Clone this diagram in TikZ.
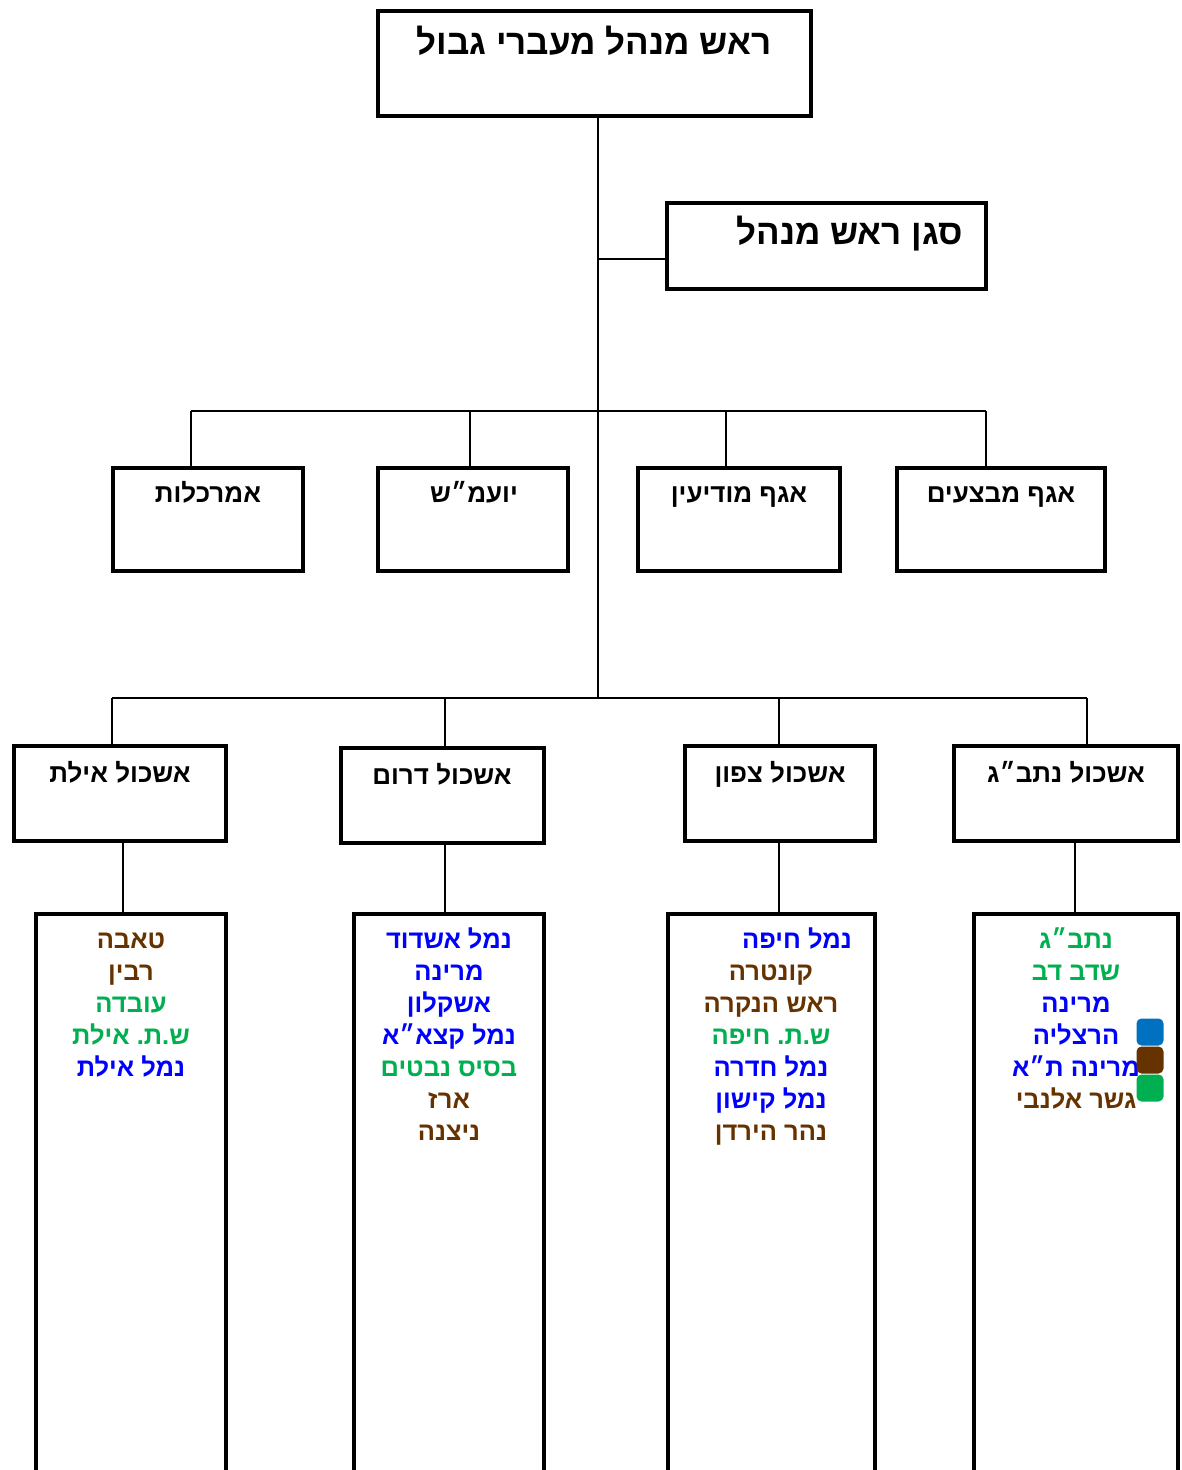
\documentclass[tikz,border=0pt]{standalone}
\usepackage{fontspec}
\setmainfont{Liberation Sans}
\newfontfamily\heb[Script=Hebrew]{Liberation Sans}
\TeXXeTstate=1
\definecolor{hbrown}{HTML}{663300}
\definecolor{hgreen}{HTML}{00B050}
\definecolor{hblue}{HTML}{0000FF}
\definecolor{sqblue}{HTML}{0070C0}
\tikzset{
  box/.style={draw=black, line width=4pt, fill=white, rectangle, inner sep=0pt, anchor=north west},
  conn/.style={draw=black, line width=2pt},
  big/.style={anchor=base, inner sep=0pt, font=\heb\bfseries\fontsize{35}{40}\selectfont},
  lbl/.style={anchor=base, inner sep=0pt, font=\heb\bfseries\fontsize{26}{30}\selectfont},
  lst/.style={anchor=base, inner sep=0pt, font=\heb\bfseries\fontsize{25.5}{30}\selectfont},
  sq/.style={rectangle, rounded corners=5pt, minimum size=27pt, inner sep=0pt}
}
\newcommand\mkbox[5]{\node[box, minimum width={#4-#2-4}, minimum height={#5-#3-4}] (#1) at (#2,#3) {};}
\newcommand\pd{\hbox{.}}
\begin{document}
\begin{tikzpicture}[x=1pt, y=-1pt]
\useasboundingbox (0,0) rectangle (1182,1470);
\fill[white] (0,0) rectangle (1182,1470);
\clip (0,0) rectangle (1182,1470);
% junction coordinates
\coordinate (j1) at (598,259);
\coordinate (j2) at (598,411);
\coordinate (j3) at (598,698);
\coordinate (d1) at (191,411);
\coordinate (d2) at (470,411);
\coordinate (d3) at (726,411);
\coordinate (d4) at (986,411);
\coordinate (e1) at (112,698);
\coordinate (e2) at (445,698);
\coordinate (e3) at (779,698);
\coordinate (e4) at (1087,698);
% boxes
\mkbox{top}{376}{9}{813}{118}
\mkbox{sagan}{665}{201}{988}{291}
\mkbox{amar}{111}{466}{305}{573}
\mkbox{yoam}{376}{466}{570}{573}
\mkbox{modi}{636}{466}{842}{573}
\mkbox{mivt}{895}{466}{1107}{573}
\mkbox{eilat}{12}{744}{228}{843}
\mkbox{darom}{339}{746}{546}{845}
\mkbox{tzafon}{683}{744}{877}{843}
\mkbox{natbag}{952}{744}{1180}{843}
\mkbox{leilat}{34}{912}{228}{1500}
\mkbox{ldarom}{352}{912}{546}{1500}
\mkbox{ltzafon}{666}{912}{877}{1500}
\mkbox{lnatbag}{972}{912}{1180}{1500}
% connectors
\draw[conn] (top.south -| j1) -- (j3);
\draw[conn] (j1) -- (j1 -| sagan.west);
\draw[conn] (d1) -- (d4);
\draw[conn] (d1) -- (d1 |- amar.north);
\draw[conn] (d2) -- (d2 |- yoam.north);
\draw[conn] (d3) -- (d3 |- modi.north);
\draw[conn] (d4) -- (d4 |- mivt.north);
\draw[conn] (e1) -- (e4);
\draw[conn] (e1) -- (e1 |- eilat.north);
\draw[conn] (e2) -- (e2 |- darom.north);
\draw[conn] (e3) -- (e3 |- tzafon.north);
\draw[conn] (e4) -- (e4 |- natbag.north);
\draw[conn] (eilat.south -| 123,0) -- (leilat.north -| 123,0);
\draw[conn] (darom.south -| 445,0) -- (ldarom.north -| 445,0);
\draw[conn] (tzafon.south -| 779,0) -- (ltzafon.north -| 779,0);
\draw[conn] (natbag.south -| 1075,0) -- (lnatbag.north -| 1075,0);
% titles
\node[big] (ttop) at (594,54) {\beginR ראש מנהל מעברי גבול\endR};
\node[big] (tsagan) at (850,244) {\beginR סגן ראש מנהל\endR};
\node[lbl] (tamar) at (208,502) {\beginR אמרכלות\endR};
\node[lbl] (tyoam) at (474,502) {\beginR יועמ״ש\endR};
\node[lbl] (tmodi) at (739,502) {\beginR אגף מודיעין\endR};
\node[lbl] (tmivt) at (1001,502) {\beginR אגף מבצעים\endR};
\node[lbl] (teilat) at (120,782) {\beginR אשכול אילת\endR};
\node[lbl] (tdarom) at (442,784) {\beginR אשכול דרום\endR};
\node[lbl] (ttzafon) at (780,782) {\beginR אשכול צפון\endR};
\node[lbl] (tnatbag) at (1066,782) {\beginR אשכול נתב״ג\endR};
% lists
\foreach [count=\i] \t/\c in {טאבה/hbrown, רבין/hbrown, עובדה/hgreen, ש.ת\pd{} אילת/hgreen, נמל אילת/hblue}
  \node[lst, text=\c] (le\i) at (131,{948+32*(\i-1)}) {\beginR\t\endR};
\foreach [count=\i] \t/\c in {נמל אשדוד/hblue, מרינה/hblue, אשקלון/hblue, נמל קצא״א/hblue, בסיס נבטים/hgreen, ארז/hbrown, ניצנה/hbrown}
  \node[lst, text=\c] (ld\i) at (449,{948+32*(\i-1)}) {\beginR\t\endR};
\node[lst, text=hblue] (lt1) at (797,948) {\beginR נמל חיפה\endR};
\foreach [count=\i from 2] \t/\c in {קונטרה/hbrown, ראש הנקרה/hbrown, ש.ת\pd{} חיפה/hgreen, נמל חדרה/hblue, נמל קישון/hblue, נהר הירדן/hbrown}
  \node[lst, text=\c] (lt\i) at (771,{948+32*(\i-1)}) {\beginR\t\endR};
\foreach [count=\i] \t/\c in {נתב״ג/hgreen, שדב דב/hgreen, מרינה/hblue, הרצליה/hblue, מרינה ת״א/hblue, גשר אלנבי/hbrown}
  \node[lst, text=\c] (ln\i) at (1076,{948+32*(\i-1)}) {\beginR\t\endR};
% colour keys
\node[sq, fill=sqblue] (k1) at (1150,1032) {};
\node[sq, fill=hbrown] (k2) at (1150,1060) {};
\node[sq, fill=hgreen] (k3) at (1150,1088) {};
\end{tikzpicture}
\end{document}
